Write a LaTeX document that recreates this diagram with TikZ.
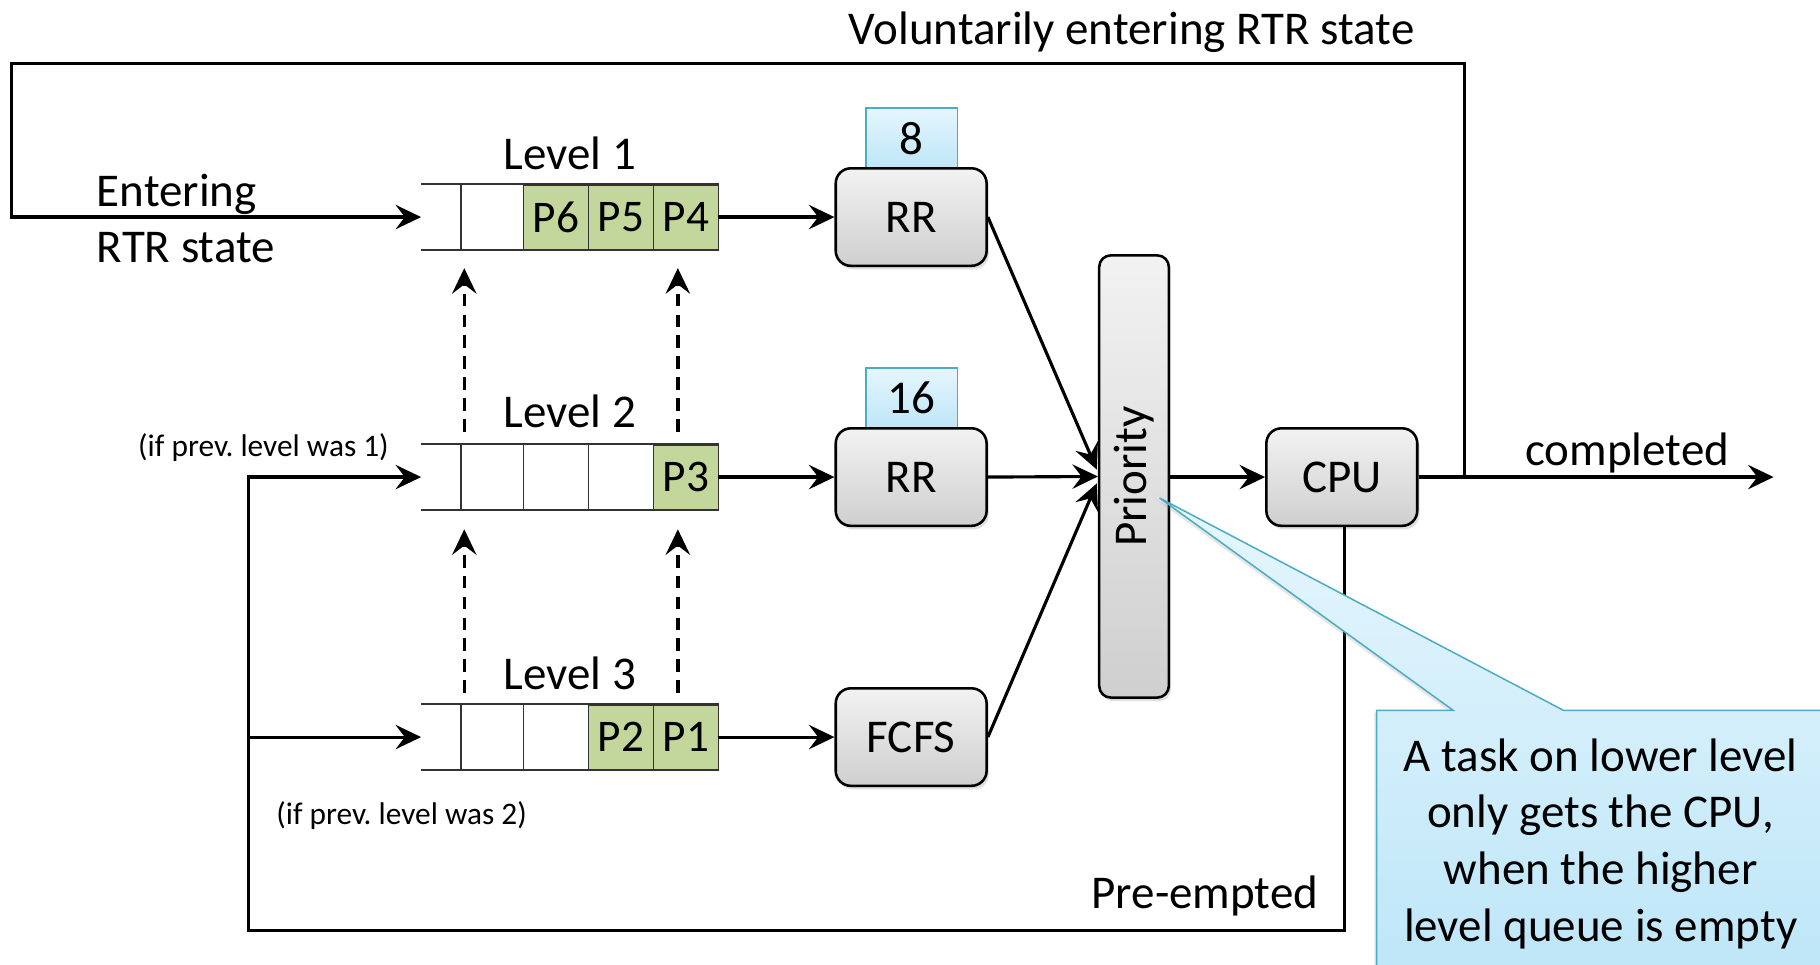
\documentclass[tikz,border=0pt]{standalone}
\usepackage{fontspec}
\setmainfont{Carlito}
\frenchspacing
\usetikzlibrary{arrows.meta,shadows,calc}
\definecolor{cellgreen}{HTML}{C3D69B}
\definecolor{tealline}{HTML}{4BACC6}
\definecolor{bluetop}{HTML}{E6F6FD}
\definecolor{bluebot}{HTML}{BDE6F8}
\definecolor{graytop}{HTML}{F2F2F2}
\definecolor{graybot}{HTML}{CFCFCF}
\tikzset{
  big/.style={font=\fontsize{40.5}{49}\selectfont},
  small/.style={font=\fontsize{27}{32}\selectfont},
  proc/.style={draw=black, line width=2.2pt, rounded corners=13pt, top color=graytop, bottom color=graybot,
    minimum width=130pt, minimum height=84pt, inner sep=0pt, big,
    drop shadow={opacity=0.25,shadow xshift=2pt,shadow yshift=-3pt}},
  quant/.style={draw=tealline, line width=1.3pt, top color=bluetop, bottom color=bluebot,
    minimum width=79pt, minimum height=52pt, inner sep=0pt, big},
  cell/.style={draw=black!80, line width=1.7pt, fill=cellgreen, minimum width=56pt, minimum height=56pt,
    inner sep=0pt, font=\fontsize{39}{40}\selectfont},
  qline/.style={draw=black!80, line width=1.7pt},
  tip/.style={-{Stealth[length=22pt,width=21pt,inset=8pt]}},
  flow/.style={line width=2.7pt, tip},
  lift/.style={line width=3pt, dash pattern=on 11pt off 7pt, tip},
}
\begin{document}
\begin{tikzpicture}[x=1pt,y=-1pt]
\useasboundingbox (0,0) rectangle (1568,831);

% queues
\foreach \r/\y in {1/187,2/411,3/635} {
  \node[minimum width=255pt, minimum height=56pt, inner sep=0pt] (q\r) at (490.5,\y) {};
  \draw[qline] (q\r.north west) -- (q\r.north east) -- (q\r.south east) -- (q\r.south west);
  \foreach \x in {397,451,507,563} \draw[qline] ({\x},{\y-28}) -- ({\x},{\y+28});
}
\node[cell] (p6) at (479,187) {P6};
\node[cell] (p5) at (535,187) {P5};
\node[cell] (p4) at (591,187) {P4};
\node[cell] (p3) at (591,411) {P3};
\node[cell] (p2) at (535,635) {P2};
\node[cell] (p1) at (591,635) {P1};

\node[big, anchor=base] (l1) at (491,146) {Level 1};
\node[big, anchor=base] (l2) at (491,368) {Level 2};
\node[big, anchor=base] (l3) at (491,594) {Level 3};

% quantum boxes and schedulers
\node[quant] (t1) at (785.5,119) {8};
\node[quant] (t2) at (785.5,343) {16};
\node[proc] (rr1) at (785,187) {RR};
\node[proc] (rr2) at (785,411) {RR};
\node[proc] (fcfs) at (785,635) {FCFS};
\node[proc, minimum width=60pt, minimum height=381pt, rounded corners=10pt] (prio) at (977,410.5) {};
\node[big, rotate=90] (priotext) at (prio.center) {Priority};
\node[proc] (cpu) at (1156,411) {CPU};

% dashed promotion arrows
\coordinate (d1a) at (400,372); \coordinate (d1b) at (400,231);
\coordinate (d2a) at (584,372); \coordinate (d2b) at (584,231);
\coordinate (d3a) at (400,597); \coordinate (d3b) at (400,456);
\coordinate (d4a) at (584,597); \coordinate (d4b) at (584,456);
\draw[lift] (d1a) -- (d1b);
\draw[lift] (d2a) -- (d2b);
\draw[lift] (d3a) -- (d3b);
\draw[lift] (d4a) -- (d4b);

% flows
\draw[flow] (q1.east) -- (rr1.west);
\draw[flow] (q2.east) -- (rr2.west);
\draw[flow] (q3.east) -- (fcfs.west);
\draw[flow] (rr1.east) -- ($(prio.west)+(-1,-6)$);
\draw[flow] (rr2.east) -- (prio.west);
\draw[flow] (fcfs.east) -- ($(prio.west)+(-1,6)$);
\draw[flow] (prio.east |- cpu.west) -- (cpu.west);

\coordinate (done) at (1528,411);
\draw[flow] (cpu.east) -- (done);

% voluntary loop
\coordinate (j1) at (1262,411);
\coordinate (tr) at (1262,55);
\coordinate (tl) at (10,55);
\coordinate (bl) at (10,187);
\draw[flow] (j1) -- (tr) -- (tl) -- (bl) -- (q1.west);

% pre-empted loop
\coordinate (pb) at (1158,802);
\coordinate (pl) at (214,802);
\coordinate (pm) at (214,411);
\coordinate (pj) at (214,635);
\draw[flow] (cpu.south -| pb) -- (pb) -- (pl) -- (pm) -- (q2.west);
\draw[flow] (pj) -- (q3.west);

% texts
\node[big, anchor=base] (vol) at (975,38) {Voluntarily entering RTR state};
\node[big, anchor=base west] (ent1) at (80,178) {Entering};
\node[big, anchor=base west] (ent2) at (80,226) {RTR state};
\node[big, anchor=base] (compl) at (1402,401) {completed};
\node[big, anchor=base] (pre) at (1038,783) {Pre-empted};
\node[small, anchor=base] (if1) at (227,393) {(if prev. level was 1)};
\node[small, anchor=base] (if2) at (346,710) {(if prev. level was 2)};

% callout
\begin{scope}
\clip (0,0) rectangle (1568,831);
\path[draw=tealline, line width=1.3pt, top color=bluetop, bottom color=bluebot,
  drop shadow={opacity=0.2,shadow xshift=-2pt,shadow yshift=-2pt}]
  (1186,612) -- (1252,612) -- (999,429) -- (1347,612) -- (1580,612) -- (1580,845) -- (1186,845) -- cycle;
\node[big, align=center] (note) at (1379,727) {A task on lower level\\only gets the CPU,\\when the higher\\level queue is empty};
\end{scope}
\end{tikzpicture}
\end{document}
